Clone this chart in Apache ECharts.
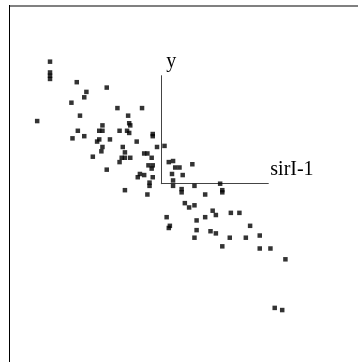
<!DOCTYPE html>
<html>
<head>
<meta charset="utf-8">
<script src="https://cdn.jsdelivr.net/npm/echarts@6/dist/echarts.min.js"></script>
<style>
  html, body { margin: 0; padding: 0; background: #fff; }
  #chart { width: 358px; height: 362px; }
</style>
</head>
<body>
<div id="chart"></div>
<script>
// projected coordinates, in axis-length units (1 = full length of a drawn axis)
const xs = [
  -1.04, -1.04, -1.04, -1.04, -0.79, -0.51, -0.70, -0.72, -0.84, -0.41,
  -0.18, -0.76, -0.31, -1.16, -0.30, -0.29, -0.55, -0.78, -0.58, -0.55,
  -0.39, -0.32, -0.30, -0.08, -0.08, -0.83, -0.72, -0.58, -0.48, -0.60,
  -0.23, -0.55, -0.36, -0.04, 0.03, -0.56, -0.34, -0.16, -0.13, -0.64,
  -0.37, -0.34, -0.29, -0.09, -0.39, -0.12, -0.08, -0.09, -0.51, 0.07,
  0.11, 0.29, 0.13, 0.17, 0.10, 0.20, -0.20, -0.16, -0.22, -0.08,
  -0.11, -0.11, 0.11, 0.11, 0.31, 0.55, 0.19, 0.19, 0.57, 0.57,
  0.41, -0.34, -0.13, 0.22, 0.26, 0.31, 0.48, 0.51, 0.65, 0.73,
  0.41, 0.05, 0.33, 0.08, 0.07, 0.83, 0.33, 0.46, 0.51, 0.31,
  0.64, 0.79, 0.92, 0.57, 0.92, 1.02, 1.16, 1.06, 1.13
];
const ys = [
  1.13, 1.03, 1.00, 0.97, 0.94, 0.89, 0.85, 0.80, 0.75, 0.70,
  0.70, 0.63, 0.63, 0.58, 0.56, 0.54, 0.54, 0.49, 0.49, 0.49,
  0.49, 0.49, 0.47, 0.46, 0.44, 0.42, 0.44, 0.41, 0.41, 0.39,
  0.39, 0.34, 0.34, 0.34, 0.35, 0.30, 0.29, 0.28, 0.28, 0.25,
  0.24, 0.24, 0.24, 0.24, 0.20, 0.17, 0.17, 0.14, 0.13, 0.20,
  0.21, 0.18, 0.15, 0.15, 0.09, 0.08, 0.09, 0.08, 0.06, 0.06,
  0.01, -0.02, 0.03, -0.02, -0.02, 0.00, -0.05, -0.08, -0.06, -0.08,
  -0.10, -0.06, -0.10, -0.18, -0.22, -0.20, -0.25, -0.29, -0.27, -0.27,
  -0.31, -0.31, -0.34, -0.39, -0.41, -0.39, -0.43, -0.44, -0.46, -0.50,
  -0.50, -0.50, -0.48, -0.58, -0.60, -0.60, -0.70, -1.15, -1.17
];
const xName = "sirI-1";
const yName = "y";

const points = xs.map((x, i) => [x, ys[i]]);

const chart = echarts.init(document.getElementById("chart"));
const serif = "'Liberation Serif', 'Times New Roman', serif";

chart.setOption({
  animation: false,
  backgroundColor: "#fff",
  grid: {
    left: 161.3,
    top: 75.7,
    width: 107,
    height: 108,
    outerBoundsMode: "none",
  },
  xAxis: {
    type: "value",
    min: 0,
    max: 1,
    name: xName,
    nameLocation: "end",
    nameGap: 2,
    nameTextStyle: {
      fontFamily: serif,
      fontSize: 20,
      color: "#000",
      align: "left",
      verticalAlign: "bottom",
      padding: [0, 0, 4, 0],
    },
    axisLine: { show: true, lineStyle: { color: "#444", width: 1 } },
    axisTick: { show: false },
    axisLabel: { show: false },
    splitLine: { show: false },
  },
  yAxis: {
    type: "value",
    min: 0,
    max: 1,
    name: yName,
    nameLocation: "end",
    nameGap: 4,
    nameTextStyle: {
      fontFamily: serif,
      fontSize: 20,
      color: "#000",
      align: "left",
      verticalAlign: "bottom",
      padding: [0, 0, 0, 5],
    },
    axisLine: { show: true, lineStyle: { color: "#444", width: 1 } },
    axisTick: { show: false },
    axisLabel: { show: false },
    splitLine: { show: false },
  },
  graphic: [
    // frame: gray top edge, black left edge
    {
      type: "line",
      shape: { x1: 9, y1: 6, x2: 358, y2: 6 },
      style: { stroke: "#808080", lineWidth: 2 },
    },
    {
      type: "line",
      shape: { x1: 9.5, y1: 5, x2: 9.5, y2: 362 },
      style: { stroke: "#000", lineWidth: 1 },
    },
  ],
  series: [
    {
      type: "scatter",
      data: points,
      clip: false,
      symbol: "rect",
      symbolSize: 4.5,
      itemStyle: { color: "#000" },
      silent: true,
    },
  ],
});
</script>
</body>
</html>
